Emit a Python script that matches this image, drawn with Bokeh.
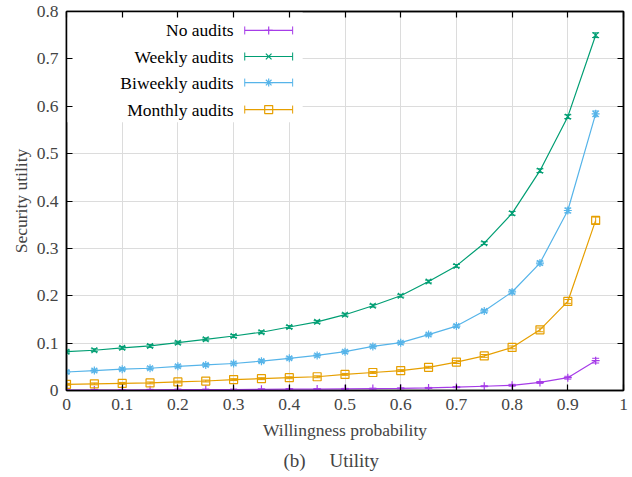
import math
from bokeh.plotting import figure
from bokeh.models import (Range1d, FixedTicker, CustomJSTickFormatter, LinearAxis,
                          BoxAnnotation, Title, ColumnDataSource, Whisker, TeeHead)
from bokeh.core.properties import value
from bokeh.embed import file_html
from bokeh.resources import INLINE

# ---------------- data ----------------
willingness = [0.0, 0.05, 0.1, 0.15, 0.2, 0.25, 0.3, 0.35, 0.4, 0.45,
               0.5, 0.55, 0.6, 0.65, 0.7, 0.75, 0.8, 0.85, 0.9, 0.95]

no_audits = [0.001, 0.001, 0.001, 0.0015, 0.002, 0.002, 0.002, 0.0025, 0.003, 0.003,
             0.0035, 0.004, 0.0045, 0.0055, 0.007, 0.009, 0.011, 0.017, 0.027, 0.063]
weekly = [0.082, 0.085, 0.090, 0.094, 0.101, 0.108, 0.115, 0.123, 0.134, 0.145,
          0.160, 0.179, 0.200, 0.230, 0.263, 0.311, 0.374, 0.464, 0.578, 0.750]
biweekly = [0.039, 0.042, 0.045, 0.047, 0.051, 0.054, 0.057, 0.062, 0.068, 0.074,
            0.082, 0.093, 0.101, 0.118, 0.136, 0.168, 0.208, 0.269, 0.380, 0.584]
monthly = [0.013, 0.014, 0.015, 0.016, 0.018, 0.020, 0.023, 0.025, 0.027, 0.029,
           0.034, 0.038, 0.042, 0.049, 0.060, 0.073, 0.091, 0.128, 0.188, 0.359]

no_audits_err = [0.001, 0.001, 0.001, 0.001, 0.001, 0.001, 0.001, 0.001, 0.001, 0.001,
                 0.001, 0.001, 0.001, 0.001, 0.001, 0.001, 0.002, 0.002, 0.003, 0.005]
weekly_err = [0.003, 0.003, 0.003, 0.003, 0.003, 0.003, 0.003, 0.003, 0.003, 0.003,
              0.003, 0.003, 0.003, 0.003, 0.003, 0.003, 0.004, 0.004, 0.004, 0.005]
biweekly_err = [0.003, 0.003, 0.003, 0.003, 0.003, 0.003, 0.003, 0.003, 0.003, 0.003,
                0.003, 0.003, 0.003, 0.003, 0.003, 0.003, 0.004, 0.004, 0.005, 0.006]
monthly_err = [0.002, 0.002, 0.002, 0.002, 0.002, 0.002, 0.002, 0.002, 0.002, 0.002,
               0.002, 0.002, 0.002, 0.002, 0.003, 0.003, 0.003, 0.004, 0.004, 0.007]

series_names = ["No audits", "Weekly audits", "Biweekly audits", "Monthly audits"]
series_values = [no_audits, weekly, biweekly, monthly]
series_errors = [no_audits_err, weekly_err, biweekly_err, monthly_err]

x_ticks = [0, 0.1, 0.2, 0.3, 0.4, 0.5, 0.6, 0.7, 0.8, 0.9, 1.0]
y_ticks = [0, 0.1, 0.2, 0.3, 0.4, 0.5, 0.6, 0.7, 0.8]

x_label = "Willingness probability"
y_label = "Security utility"
caption = "(b)\u00a0\u00a0\u00a0\u00a0 Utility"

# ---------------- style ----------------
FONT = "Liberation Serif"
FS = "17.5px"
colors = ["#a63ce8", "#009e73", "#56b4e9", "#e69f00"]
markers = ["cross", "x", "asterisk", "square"]

p = figure(width=630, height=475, x_range=Range1d(0, 1), y_range=Range1d(0, 0.8),
           output_backend="svg", toolbar_location=None,
           min_border_left=66, min_border_right=7, min_border_top=11, min_border_bottom=85)
p.background_fill_color = "white"
p.border_fill_color = "white"
p.outline_line_color = "black"
p.outline_line_width = 1.5

fmt = CustomJSTickFormatter(code="return Number(tick.toFixed(2)).toString();")
blank = CustomJSTickFormatter(code="return '';")

for ax, ticks in ((p.xaxis[0], x_ticks), (p.yaxis[0], y_ticks)):
    ax.ticker = FixedTicker(ticks=ticks)
    ax.formatter = fmt
    ax.major_tick_in = 6
    ax.major_tick_out = 0
    ax.minor_tick_in = 0
    ax.minor_tick_out = 0
    ax.axis_line_width = 1.5
    ax.major_tick_line_width = 1.2
    ax.major_label_text_font = FONT
    ax.major_label_text_font_size = FS
    ax.axis_label_text_font = FONT
    ax.axis_label_text_font_size = FS
    ax.axis_label_text_font_style = "normal"

p.xaxis.axis_label = x_label
p.yaxis.axis_label = y_label
p.xaxis.major_label_standoff = 8
p.xaxis.axis_label_standoff = 7
p.yaxis.major_label_standoff = 8
p.yaxis.axis_label_standoff = 3

for side, ticks in (("right", y_ticks), ("above", x_ticks)):
    ax = LinearAxis(ticker=FixedTicker(ticks=ticks), formatter=blank,
                    major_tick_in=6, major_tick_out=0, minor_tick_in=0, minor_tick_out=0,
                    axis_line_width=1.5, major_tick_line_width=1.2,
                    major_label_standoff=0, major_label_text_font_size="1px")
    p.add_layout(ax, side)

p.xgrid.ticker = FixedTicker(ticks=x_ticks)
p.ygrid.ticker = FixedTicker(ticks=y_ticks)
for g in (p.xgrid[0], p.ygrid[0]):
    g.grid_line_color = "#dcdcdc"
    g.grid_line_width = 1

# legend background box (white, covers grid)
p.add_layout(BoxAnnotation(left=0, right=0.424, bottom=0.566, top=0.8,
                           fill_color="white", fill_alpha=1.0, line_color=None,
                           level="underlay"))

# data series
for name, vals, errs, col, mk in zip(series_names, series_values, series_errors, colors, markers):
    src = ColumnDataSource(dict(x=willingness, y=vals,
                                lower=[v - e for v, e in zip(vals, errs)],
                                upper=[v + e for v, e in zip(vals, errs)]))
    p.line("x", "y", source=src, line_color=col, line_width=1.2)
    p.scatter("x", "y", source=src, marker=mk, size=8, line_color=col,
              fill_color=None, line_width=1.2)
    p.add_layout(Whisker(source=src, base="x", lower="lower", upper="upper",
                         line_color=col, line_width=1.0,
                         lower_head=TeeHead(size=7, line_color=col, line_width=1.0),
                         upper_head=TeeHead(size=7, line_color=col, line_width=1.0)))

# manual key (text right-aligned, sample on the right)
key_rows = [0.760, 0.705, 0.650, 0.593]
key_text_x = 0.300
key_x0, key_x1 = 0.320, 0.406
key_xm = (key_x0 + key_x1) / 2
for name, col, mk, ky in zip(series_names, colors, markers, key_rows):
    p.text(x=[key_text_x], y=[ky], text=[name], text_align="right", text_baseline="middle",
           text_font=value(FONT), text_font_size=FS, text_color="black")
    p.segment(x0=[key_x0], y0=[ky], x1=[key_x1], y1=[ky], line_color=col, line_width=1.2)
    p.scatter(x=[key_x0, key_x1], y=[ky, ky], marker="dash", angle=math.pi / 2, size=8,
              line_color=col, line_width=1.0)
    p.scatter(x=[key_xm], y=[ky], marker=mk, size=8, line_color=col,
              fill_color=None, line_width=1.2)

p.add_layout(Title(text=caption, align="left", offset=217, text_font=FONT,
                   text_font_size="19px", text_font_style="normal", standoff=10), "below")

open("out.html", "w").write(file_html(p, INLINE))
